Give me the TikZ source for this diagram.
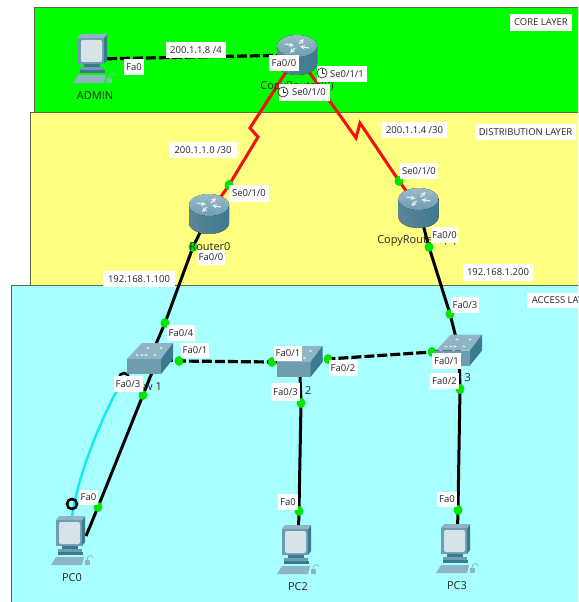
\documentclass[tikz,border=0pt]{standalone}
\usepackage{fontspec}
\setmainfont{Open Sans}
\definecolor{layerG}{HTML}{00FF00}
\definecolor{layerY}{HTML}{FFFF80}
\definecolor{layerC}{HTML}{A8FFFF}
\definecolor{edgeL}{HTML}{5A6A4A}
\definecolor{portG}{HTML}{00E600}
\definecolor{serial}{HTML}{F01010}
\definecolor{cons}{HTML}{10E8F8}
\definecolor{devA}{HTML}{6E9DB0}
\definecolor{devB}{HTML}{3C7A90}
\definecolor{devC}{HTML}{8FB4C3}
\definecolor{devS}{HTML}{D6E4EA}
\tikzset{
  x=1pt,y=-1pt,
  layerbox/.style={fill=#1,draw=edgeL,line width=1pt},
  devnode/.style={inner sep=0,minimum width=40pt,minimum height=40pt},
  devtext/.style={inner sep=0,font=\fontsize{11}{13}\selectfont,text=black!85},
  lbl/.style 2 args={fill=white,inner sep=0,minimum width=#1pt,minimum height=#2pt,font=\fontsize{9.5}{11}\selectfont,text=black!85},
  portdot/.style={circle,fill=portG,inner sep=0,minimum width=8pt,minimum height=9pt},
  eth/.style={draw=black,line width=3pt},
  xover/.style={draw=black,line width=3.2pt,dash pattern=on 10pt off 3pt},
  ser/.style={draw=serial,line width=3pt,line join=miter},
  rtr/.pic={
    \fill[left color=devA!85!black,middle color=devS,right color=devB]
      (-20,-9) -- (-20,9) arc (180:360:20pt and 11pt) -- (20,-9) -- cycle;
    \fill[top color=devC!90!white,bottom color=devA] (0,-9) ellipse [x radius=20pt,y radius=11pt];
    \draw[white!85!devA,line width=1.1pt,-stealth] (-12,-11) -- (-3,-9.5);
    \draw[white!85!devA,line width=1.1pt,-stealth] (12,-7) -- (3,-8.5);
    \draw[white!85!devA,line width=1.1pt,-stealth] (2,-11) -- (7,-16);
    \draw[white!85!devA,line width=1.1pt,-stealth] (-2,-7) -- (-7,-2);
  },
  swi/.pic={
    \fill[devC] (-23,1) -- (-8,-15) -- (23,-15) -- (11,1) -- cycle;
    \fill[devA] (-23,1) rectangle (11,16);
    \fill[devB] (11,1) -- (23,-15) -- (23,1) -- (11,16) -- cycle;
    \foreach \a/\b in {-8/-3,-2/-10,5/-3,11/-10,-13/-3,-4/-3}{\fill[white!75!devC] (\a,\b) ellipse [x radius=1.6pt,y radius=1pt];}
  },
  pcx/.pic={
    \fill[devB] (10,-21) -- (13,-25) -- (13,1) -- (10,5) -- cycle;
    \fill[devC] (-16,-21) -- (-13,-25) -- (13,-25) -- (10,-21) -- cycle;
    \fill[devA] (-16,-21) rectangle (10,5);
    \fill[devS,rounded corners=2pt] (-13,-19) rectangle (8,3);
    \fill[devB] (-10,5) rectangle (6,8);
    \fill[devA] (-14,8) rectangle (10,11);
    \fill[devB] (-14,11) rectangle (11,14);
    \fill[devC] (-21,24) -- (-16,16) -- (12,16) -- (10,24) -- cycle;
    \fill[devC] (13,19) rectangle (18,24);
    \draw[devC,line width=.8pt] (15,19) .. controls (15,14) and (20,13) .. (21,17);
  },
}
\newcommand{\clockmark}[2]{%
  \draw[black!80,line width=.7pt,fill=white] (#1,#2) circle [radius=5pt];
  \draw[black!80,line width=.7pt] (#1,#2-3.5) -- (#1,#2) -- (#1+3,#2);
}
\begin{document}
\begin{tikzpicture}
\useasboundingbox (0,0) rectangle (578,602);
\clip (0,0) rectangle (578,602);
\fill[white] (0,0) rectangle (578,602);
% layers
\draw[layerbox=layerG] (34,8) rectangle (590,112);
\draw[layerbox=layerY] (30,112.5) rectangle (590,285);
\draw[layerbox=layerC] (11,285.5) rectangle (590,620);
% device anchors
\node[devnode] (admin) at (94,59) {};
\node[devnode] (core) at (297,55) {};
\node[devnode] (rzero) at (209,214) {};
\node[devnode] (rcopy) at (418.5,208) {};
\node[devnode] (swa) at (150,358) {};
\node[devnode] (swb) at (299.5,361) {};
\node[devnode] (swc) at (459,349.5) {};
\node[devnode] (pca) at (72,541) {};
\node[devnode] (pcb) at (298,550) {};
\node[devnode] (pcc) at (457,549) {};
% ports
\node[portdot] (dzs) at (229,185) {};
\node[portdot] (dcs) at (399,181) {};
\node[portdot] (dzf) at (193,247) {};
\node[portdot] (dcf) at (429,247) {};
\node[portdot] (dsa) at (165,323) {};
\node[portdot] (dsc) at (450,314) {};
\node[portdot] (dar) at (179,361) {};
\node[portdot] (dbl) at (272,362) {};
\node[portdot] (dbr) at (328,359) {};
\node[portdot] (dcl) at (432,352) {};
\node[portdot] (dad) at (143,395) {};
\node[portdot] (dbd) at (301,403) {};
\node[portdot] (dcd) at (460,389) {};
\node[portdot] (dpa) at (98,507) {};
\node[portdot] (dpb) at (299,511) {};
\node[portdot] (dpc) at (458,510) {};
\coordinate (zl1) at (250,128);
\coordinate (zl2) at (258,137);
\coordinate (zr1) at (356,138);
\coordinate (zr2) at (360,123);
\coordinate (swaout) at (157,360);
\coordinate (pcaout) at (86,536);
\coordinate (cyana) at (115,392);
\coordinate (cyanb) at (72,517);
\coordinate (ringa) at (124,378);
\coordinate (ringb) at (72,504);
% links
\draw[cons,line width=2.4pt] (ringa) .. controls (cyana) and (80,460) .. (cyanb);
\draw[black,line width=2.6pt] (ringa) circle [radius=5pt];
\draw[black,line width=2.6pt] (ringb) circle [radius=5pt];
\draw[xover] (admin.center) -- (core.center);
\draw[ser] (core.center) -- (zl1) -- (zl2) -- (dzs.center) -- (rzero.center);
\draw[ser] (core.center) -- (zr1) -- (zr2) -- (dcs.center) -- (rcopy.center);
\draw[eth] (rzero.center) -- (dzf.center) -- (dsa.center) -- (swa.center);
\draw[eth] (rcopy.center) -- (dcf.center) -- (dsc.center) -- (swc.center);
\draw[xover] (swa.center) -- (dar.center) -- (dbl.center) -- (swb.center);
\draw[xover] (swb.center) -- (dbr.center) -- (dcl.center) -- (swc.center);
\draw[eth] (swaout) -- (dad.center) -- (dpa.center) -- (pcaout);
\draw[eth] (swb.center) -- (dbd.center) -- (dpb.center) -- (pcb.center);
\draw[eth] (swc.center) -- (dcd.center) -- (dpc.center) -- (pcc.center);
% dots over the links
\foreach \d in {dzs,dcs,dzf,dcf,dsa,dsc,dar,dbl,dbr,dcl,dad,dbd,dcd,dpa,dpb,dpc}{\fill[portG] (\d) ellipse [x radius=4pt,y radius=5pt];}
% device art
\pic at (admin) {pcx};
\pic at (core) {rtr};
\pic at (rzero) {rtr};
\pic at (rcopy) {rtr};
\pic at (swa) {swi};
\pic at (swb) {swi};
\pic at (swc) {swi};
\pic at (pca) {pcx};
\pic at (pcb) {pcx};
\pic at (pcc) {pcx};
% device names
\node[devtext] (tadmin) at (95,96) {ADMIN};
\node[devtext] (tcore) at (297,87) {CopyRouter(0)};
\node[devtext] (tzero) at (210,247) {Router0};
\node[devtext] (tcopy) at (417,241) {CopyRouter0(1)};
\node[devtext] (tswa) at (150,387) {Sw 1};
\node[devtext] (tswb) at (299.5,391) {Sw 2};
\node[devtext] (tswc) at (459,378) {Sw 3};
\node[devtext] (tpca) at (72,578) {PC0};
\node[devtext] (tpcb) at (298,587) {PC2};
\node[devtext] (tpcc) at (457,586) {PC3};
% labels
\node[lbl={62}{17}] (lcore) at (541,22.5) {CORE LAYER};
\node[lbl={101}{16}] (ldist) at (525.5,132) {DISTRIBUTION LAYER};
\node[lbl={72}{15},anchor=west] (lacc) at (527,300.5) {ACCESS LAYER};
\node[lbl={60}{16}] (n1) at (196,50) {200.1.1.8 /4};
\node[lbl={20}{15}] (n2) at (134,67) {Fa0};
\node[lbl={30}{16}] (n3) at (284,63) {Fa0/0};
\node[lbl={50}{16}] (n4) at (342,74) {\hspace{10pt}Se0/1/1};
\node[lbl={51}{17}] (n5) at (304,92.5) {\hspace{10pt}Se0/1/0};
\clockmark{322}{73}
\clockmark{283}{92}
\node[lbl={68}{16}] (n6) at (203,150) {200.1.1.0 /30};
\node[lbl={65}{16}] (n7) at (414.5,130) {200.1.1.4 /30};
\node[lbl={40}{17}] (n8) at (249,193.5) {Se0/1/0};
\node[lbl={38}{16}] (n9) at (419,171) {Se0/1/0};
\node[lbl={28}{15}] (n10) at (211,257.5) {Fa0/0};
\node[lbl={27}{16}] (n11) at (444.5,235) {Fa0/0};
\node[lbl={72}{16}] (n12) at (139,279) {192.168.1.100};
\node[lbl={70}{17}] (n13) at (498,272.5) {192.168.1.200};
\node[lbl={28}{16}] (n14) at (181,333) {Fa0/4};
\node[lbl={28}{15}] (n15) at (195,350.5) {Fa0/1};
\node[lbl={29}{16}] (n16) at (128,384) {Fa0/3};
\node[lbl={28}{15}] (n17) at (288,353.5) {Fa0/1};
\node[lbl={29}{16}] (n18) at (343,368) {Fa0/2};
\node[lbl={29}{18}] (n19) at (285.5,392) {Fa0/3};
\node[lbl={28}{16}] (n20) at (465,305) {Fa0/3};
\node[lbl={29}{16}] (n21) at (446.5,361) {Fa0/1};
\node[lbl={29}{16}] (n22) at (444.5,381) {Fa0/2};
\node[lbl={19}{15}] (n23) at (88.5,497.5) {Fa0};
\node[lbl={20}{16}] (n24) at (288,502) {Fa0};
\node[lbl={20}{15}] (n25) at (447,499.5) {Fa0};
\end{tikzpicture}
\end{document}
